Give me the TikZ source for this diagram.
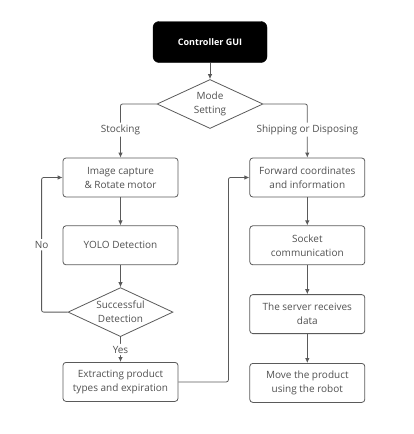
\documentclass[tikz,border=0pt]{standalone}
\usepackage{fontspec}
\setmainfont{Open Sans}
\usetikzlibrary{positioning, arrows.meta, shapes.geometric}
\definecolor{linegray}{HTML}{5A5A5A}
\definecolor{textgray}{HTML}{505050}

\begin{document}
\begin{tikzpicture}[
            x=1pt, y=-1pt,
            box/.style={rectangle, draw=linegray, rounded corners=3pt, line width=0.8pt, minimum height=39pt, minimum width=115pt, text=textgray, font=\fontsize{10}{14}\selectfont},
            gui/.style={rectangle, draw=black, fill=black, rounded corners=6pt, minimum height=41pt, minimum width=114pt, text=white, font=\fontsize{9}{11}\selectfont\bfseries},
            decision/.style={diamond, draw=linegray, line width=0.8pt, aspect=2.2, inner sep=0pt, minimum width=106pt, minimum height=49pt, text=textgray, font=\fontsize{10}{14}\selectfont},
            line/.style={draw=linegray, line width=0.8pt, rounded corners=2pt, -{Latex[length=5pt, width=4.5pt]}},
            lbl/.style={fill=white, text=textgray, inner sep=2pt, font=\fontsize{10}{12}\selectfont},
            node distance=28pt and 71pt,
            every node/.style={align=center}
        ]
        \useasboundingbox (0,0) rectangle (414,434);

        % Top
        \node[gui] (gui) at (210,42) {Controller GUI};
        \node[decision] (mode) at (210,104) {Mode\\Setting};

        % Stocking branch
        \node[box] (capture) at (120.5,177.5) {Image capture\\\& Rotate motor};
        \node[box, below=of capture] (yolo) {YOLO Detection};
        \node[decision, below=22pt of yolo, minimum width=105pt] (success) {Successful\\Detection};
        \node[box, below=25pt of success] (extract) {Extracting product\\types and expiration};

        % Shipping or disposing branch
        \node[box, right=of capture] (forward) {Forward coordinates\\and information};
        \node[box, below=of forward] (socket) {Socket\\communication};
        \node[box, below=29pt of socket] (server) {The server receives\\data};
        \node[box, below=29pt of server] (move) {Move the product\\using the robot};

        \draw[line] (gui) -- (mode);
        \draw[line] (mode.west) -| node[lbl, pos=0.74] {Stocking} (capture.north);
        \draw[line] (mode.east) -| node[lbl, pos=0.74] {Shipping or Disposing} (forward.north);

        \draw[line] (capture) -- (yolo);
        \draw[line] (yolo) -- (success);
        \draw[line] (success) -- node[lbl, midway] {Yes} (extract);
        \draw[line] (success.west) -- ++(-26,0) |- node[lbl, pos=0.25] {No} (capture.west);

        \draw[line] (extract.east) -- ++(50,0) |- (forward.west);
        \draw[line] (forward) -- (socket);
        \draw[line] (socket) -- (server);
        \draw[line] (server) -- (move);

    \end{tikzpicture}
\end{document}
